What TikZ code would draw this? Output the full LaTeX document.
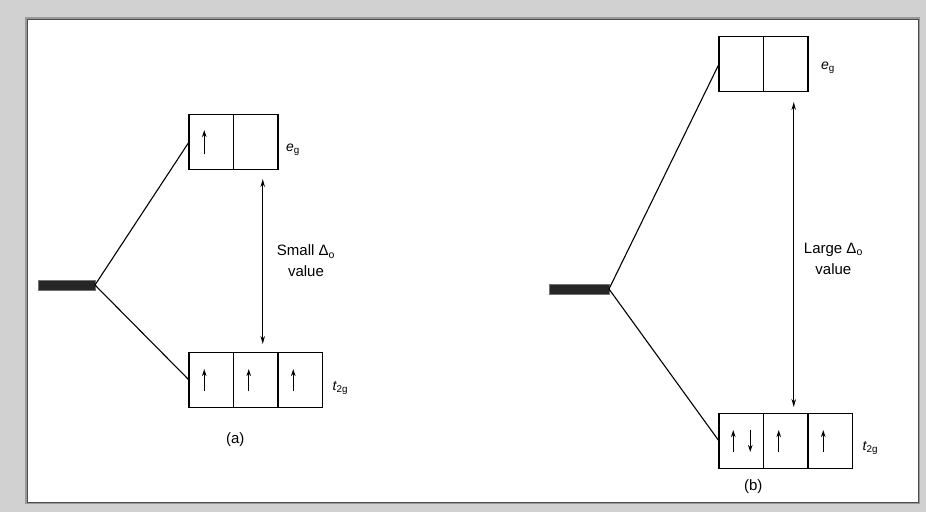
\documentclass[tikz,border=0pt]{standalone}
\usepackage{fontspec}
\setmainfont{Liberation Sans}
\usetikzlibrary{arrows.meta, positioning}

\begin{document}
\begin{tikzpicture}[
  x=1pt, y=-1pt,
  cell/.style={rectangle, draw, line width=1.5pt, minimum width=44.5pt, minimum height=55pt, inner sep=0pt, outer sep=0pt},
  bar/.style={rectangle, fill=black!85, draw=black!55, minimum height=10pt, inner sep=0pt, outer sep=0pt},
  level/.style={line width=1.1pt},
  spin/.style={-{Stealth[length=7pt, width=4.5pt]}, line width=1.4pt},
  gap/.style={{Stealth[length=8pt, width=4.5pt]}-{Stealth[length=8pt, width=4.5pt]}, line width=1.1pt},
  note/.style={font=\fontsize{15}{21}\selectfont, align=center, inner sep=1pt},
  orb/.style={font=\fontsize{14}{15}\selectfont\itshape, inner sep=1pt},
  tag/.style={font=\fontsize{15}{16}\selectfont, inner sep=1pt}
]
\useasboundingbox (0,0) rectangle (926,512);

% Frame round the figure.
\fill[black!18] (0,0) rectangle (926,512);
\draw[black!40, line width=4pt] (27,19) rectangle (918,502);
\fill[white] (27,19) rectangle (918,502);
\draw[black!70, line width=0.6pt] (27,19) rectangle (918,502);

% (a) small splitting.
\node[bar, minimum width=57pt] (barA) at (66.5,285) {};
\node[cell] (egA1) at (211.25,142) {};
\node[cell, right=0pt of egA1] (egA2) {};
\node[cell] (tA1) at (211.25,380) {};
\node[cell, right=0pt of tA1] (tA2) {};
\node[cell, right=0pt of tA2] (tA3) {};

\node[orb, right=7pt of egA2, yshift=-8pt] (egAlab) {e\textsubscript{\upshape g}};
\node[orb, right=9pt of tA3, yshift=-8pt] (tAlab) {t\textsubscript{\upshape 2g}};
\node[tag, below=24pt of tA1, xshift=24pt] (capA) {(a)};

\draw[level] (barA.east) -- (egA1.west);
\draw[level] (barA.east) -- (tA1.west);
\draw[gap, shorten <=9.5pt, shorten >=8.5pt] ([xshift=7pt]egA2.south) -- ([xshift=7pt]egA2.south |- tA2.north) coordinate[midway] (midA);
\node[note, right=13pt of midA] (dA) {Small Δ\textsubscript{o}\\value};

% Electrons, (a).
\draw[spin] ([xshift=-7pt, yshift=-12pt]egA1.center) -- ([xshift=-7pt, yshift=12pt]egA1.center);
\foreach \c in {tA1, tA2, tA3}
  \draw[spin] ([xshift=-7pt, yshift=-11pt]\c.center) -- ([xshift=-7pt, yshift=11pt]\c.center);

% (b) large splitting.
\node[bar, minimum width=60pt] (barB) at (579,289) {};
\node[cell] (egB1) at (741.25,64) {};
\node[cell, right=0pt of egB1] (egB2) {};
\node[cell] (tB1) at (741.25,441) {};
\node[cell, right=0pt of tB1] (tB2) {};
\node[cell, right=0pt of tB2] (tB3) {};

\node[orb, right=12pt of egB2, yshift=-4pt] (egBlab) {e\textsubscript{\upshape g}};
\node[orb, right=9pt of tB3, yshift=-7pt] (tBlab) {t\textsubscript{\upshape 2g}};
\node[tag, below=10pt of tB1, xshift=12pt] (capB) {(b)};

\draw[level] (barB.east) -- (egB1.west);
\draw[level] (barB.east) -- (tB1.west);
\draw[gap, shorten <=10.5pt, shorten >=6.5pt] ([xshift=8pt]egB2.south) -- ([xshift=8pt]egB2.south |- tB2.north) coordinate[midway] (midB);
\node[note, right=9pt of midB, yshift=-6pt] (dB) {Large Δ\textsubscript{o}\\value};

% Electrons, (b).
\draw[spin] ([xshift=-8pt, yshift=-11pt]tB1.center) -- ([xshift=-8pt, yshift=11pt]tB1.center);
\draw[spin] ([xshift=9pt, yshift=11pt]tB1.center) -- ([xshift=9pt, yshift=-11pt]tB1.center);
\foreach \c in {tB2, tB3}
  \draw[spin] ([xshift=-7pt, yshift=-11pt]\c.center) -- ([xshift=-7pt, yshift=11pt]\c.center);

\end{tikzpicture}
\end{document}
